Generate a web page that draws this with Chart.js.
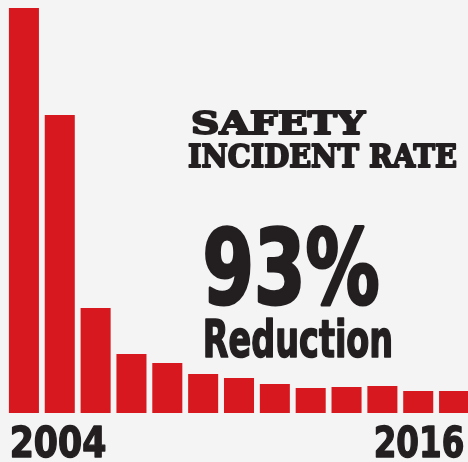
<!DOCTYPE html>
<html><head><meta charset="utf-8">
<script src="https://cdn.jsdelivr.net/npm/chart.js@4"></script>
<style>html,body{margin:0;padding:0;overflow:hidden;background:#f4f4f4;width:468px;height:462px}canvas{display:block}</style>
</head><body>
<canvas id="c" width="472" height="462"></canvas>
<script>
const years = ['2004','2005','2006','2007','2008','2009','2010','2011','2012','2013','2014','2015','2016'];
const rates = [40.5, 29.8, 10.5, 5.9, 5.0, 3.9, 3.5, 2.9, 2.5, 2.6, 2.7, 2.2, 2.2];
const titleLines = ['SAFETY', 'INCIDENT RATE'];
const bigNumber = '93%';
const subLabel = 'Reduction';
const endLabels = ['2004', '2016'];

function fitText(ctx, text, font, left, baseline, width, stroke) {
  ctx.save();
  ctx.font = font;
  const w = ctx.measureText(text).width + stroke;
  ctx.translate(left + stroke / 2, baseline - stroke / 2);
  ctx.scale((width - stroke) / (w - stroke), 1);
  ctx.fillText(text, 0, 0);
  if (stroke > 0) {
    ctx.lineWidth = stroke;
    ctx.lineJoin = 'round';
    ctx.strokeText(text, 0, 0);
  }
  ctx.restore();
}

const deco = {
  id: 'deco',
  beforeDraw(chart) {
    const ctx = chart.ctx;
    ctx.save();
    ctx.fillStyle = '#f4f4f4';
    ctx.fillRect(0, 0, chart.width, chart.height);
    ctx.restore();
  },
  afterDraw(chart) {
    const ctx = chart.ctx;
    ctx.save();
    ctx.fillStyle = '#231f20';
    ctx.strokeStyle = '#231f20';
    ctx.textBaseline = 'alphabetic';
    fitText(ctx, titleLines[0], 'bold 32px "DejaVu Serif"', 190, 135, 176, 2);
    fitText(ctx, titleLines[1], 'bold 32px "DejaVu Serif"', 187, 168, 271, 2);
    fitText(ctx, bigNumber, 'bold 103px "DejaVu Sans Condensed", "DejaVu Sans"', 201, 305, 180, 3);
    fitText(ctx, subLabel, 'bold 52px "DejaVu Sans Condensed", "DejaVu Sans"', 202, 358, 192, 1.6);
    fitText(ctx, endLabels[0], 'bold 42px "DejaVu Sans Condensed", "DejaVu Sans"', 9, 458, 98, 1.4);
    fitText(ctx, endLabels[1], 'bold 42px "DejaVu Sans Condensed", "DejaVu Sans"', 373, 458, 92, 1.4);
    ctx.restore();
  }
};

new Chart(document.getElementById('c'), {
  type: 'bar',
  data: {
    labels: years,
    datasets: [{
      data: rates,
      backgroundColor: '#d7191f',
      borderWidth: 0,
      barPercentage: 0.838,
      categoryPercentage: 1
    }]
  },
  options: {
    responsive: false,
    animation: false,
    events: [],
    layout: { padding: { left: 6, right: 0, top: 0, bottom: 49 } },
    plugins: { legend: { display: false }, tooltip: { enabled: false }, title: { display: false } },
    scales: {
      x: { display: false },
      y: { display: false, min: 0, max: 41.3 }
    }
  },
  plugins: [deco]
});
</script>
</body></html>
